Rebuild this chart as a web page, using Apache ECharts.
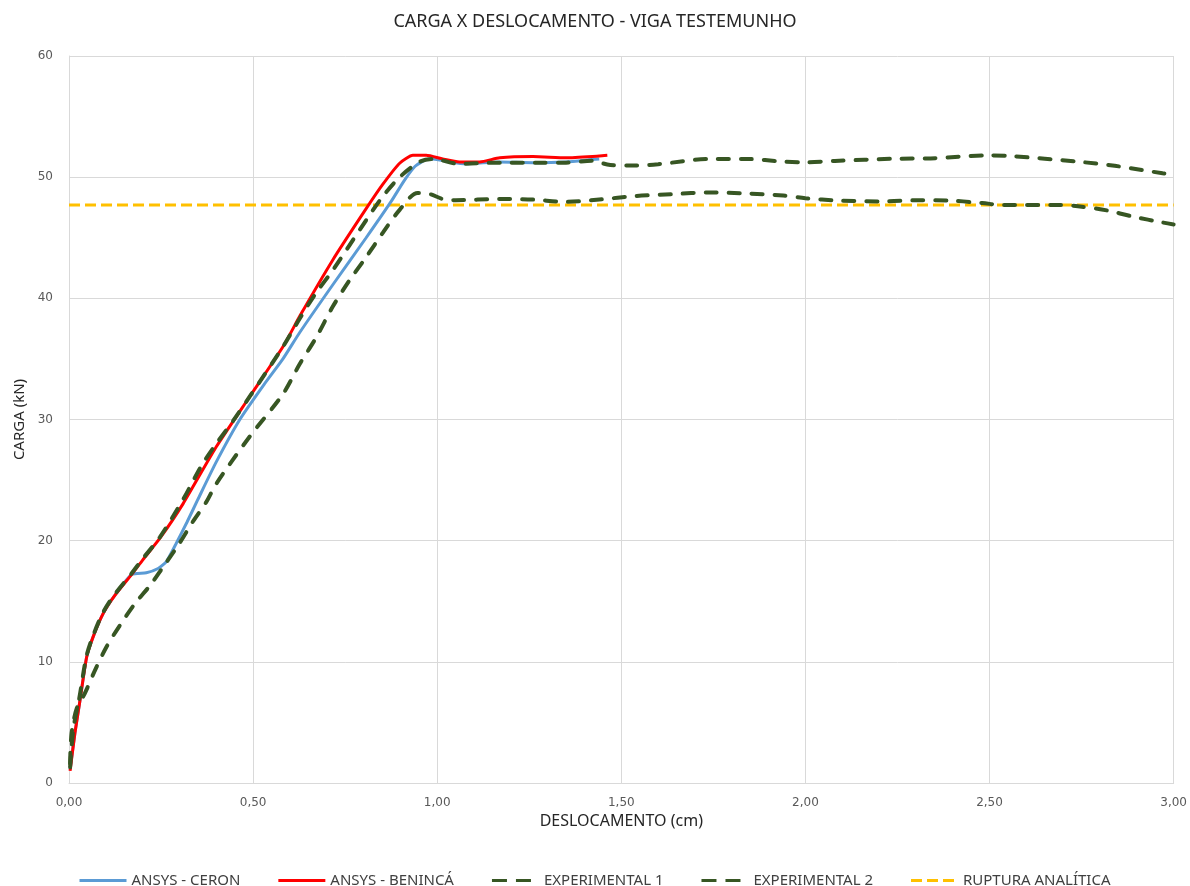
<!DOCTYPE html>
<html>
<head>
<meta charset="utf-8">
<script src="https://cdn.jsdelivr.net/npm/echarts@6/dist/echarts.min.js"></script>
<style>html,body{margin:0;padding:0;background:#fff}#c{width:1190px;height:886px}</style>
</head>
<body>
<div id="c"></div>
<script>
// ANSYS - CERON
const ceronX = [0.003,0.016,0.03,0.048,0.066,0.093,0.125,0.17,0.21,0.242,0.265,0.29,0.32,0.35,0.4,0.464,0.53,0.581,0.627,0.716,0.807,0.875,0.91,0.94,0.97,0.988,1.033,1.079,1.17,1.26,1.35,1.42,1.44];
const ceronY = [1.1,4.1,6.85,10.4,12.1,14.0,15.5,17.2,17.35,17.7,18.3,19.7,21.5,23.4,26.5,30.0,32.9,35.0,37.2,41.1,45.0,48.0,49.7,50.9,51.45,51.5,51.26,51.1,51.26,51.2,51.26,51.45,51.5];
// ANSYS - BENINCÁ
const benincaX = [0.003,0.016,0.03,0.048,0.066,0.093,0.125,0.17,0.2,0.247,0.31,0.4,0.491,0.581,0.628,0.716,0.807,0.852,0.898,0.934,0.97,1.015,1.06,1.115,1.17,1.26,1.35,1.44,1.462];
const benincaY = [1.0,4.1,6.85,10.4,12.1,14.0,15.5,17.2,18.4,20.2,23.06,27.75,31.9,36.0,38.6,43.15,47.4,49.4,51.15,51.8,51.8,51.5,51.26,51.26,51.6,51.7,51.6,51.75,51.8];
// EXPERIMENTAL 1
const exp1X = [0.003,0.012,0.028,0.047,0.066,0.093,0.125,0.17,0.2,0.247,0.31,0.36,0.4,0.446,0.491,0.581,0.628,0.672,0.716,0.807,0.852,0.898,0.952,0.988,1.06,1.17,1.28,1.35,1.42,1.47,1.54,1.60,1.74,1.84,1.94,2.0,2.08,2.24,2.34,2.50,2.56,2.74,2.84,2.97,3.0];
const exp1Y = [1.3,4.5,7.0,10.4,12.2,14.1,15.6,17.3,18.5,20.3,23.4,26.2,28.0,29.9,31.9,36.0,38.4,40.5,42.3,46.45,48.4,50.0,51.26,51.5,51.1,51.2,51.2,51.2,51.35,51.0,50.96,51.07,51.5,51.5,51.28,51.23,51.34,51.52,51.55,51.8,51.74,51.28,50.94,50.32,50.2];
// EXPERIMENTAL 2
const exp2X = [0.003,0.007,0.021,0.043,0.0705,0.102,0.138,0.179,0.22,0.256,0.296,0.337,0.373,0.4,0.491,0.581,0.627,0.672,0.716,0.762,0.807,0.852,0.898,0.947,0.98,1.015,1.05,1.17,1.26,1.35,1.44,1.54,1.64,1.74,1.84,1.94,2.0,2.09,2.21,2.31,2.40,2.48,2.54,2.69,2.74,2.82,2.89,2.97,3.0];
const exp2Y = [1.6,4.1,6.15,7.4,9.3,11.25,13.0,14.8,16.3,17.85,19.6,21.6,23.2,24.7,28.6,32.1,34.6,36.8,39.3,41.5,43.4,45.4,47.3,48.7,48.6,48.2,48.1,48.2,48.15,47.96,48.15,48.45,48.6,48.74,48.66,48.48,48.26,48.07,48.0,48.1,48.05,47.86,47.7,47.7,47.6,47.25,46.74,46.26,46.1];
// RUPTURA ANALÍTICA
const rupturaX = [0, 3.0];
const rupturaY = [47.7, 47.7];

const seriesNames = ['ANSYS - CERON','ANSYS - BENINCÁ','EXPERIMENTAL 1','EXPERIMENTAL 2','RUPTURA ANALÍTICA'];
const xTickInterval = 0.5, xMin = 0, xMax = 3;
const yTickInterval = 10, yMin = 0, yMax = 60;

function pairs(xs, ys){ return xs.map((x,i)=>[x, ys[i]]); }
const FONT = 'Noto Sans';
const C_BLUE = '#5b9bd5', C_RED = '#ff0000', C_GREEN = '#375623', C_GOLD = '#ffc000';
const ICON_SOLID = 'path://M0,0h47v3h-47z';
const ICON_DASH = 'path://M0,0h15v3h-15zM24,0h15v3h-15zM46.9,1.4h0.1v0.1h-0.1z';
const ICON_SHORT = 'path://M0,0h11v3h-11zM16,0h11v3h-11zM32,0h11v3h-11zM46.9,1.4h0.1v0.1h-0.1z';

const chart = echarts.init(document.getElementById('c'));
chart.setOption({
  animation:false,
  title:{text:'CARGA X DESLOCAMENTO - VIGA TESTEMUNHO', left:'center', top:8,
    textStyle:{fontFamily:FONT, fontSize:18, fontWeight:'normal', color:'#262626'}},
  grid:{left:69, right:14, top:56, bottom:103},
  legend:{top:868, left:'center', itemWidth:47, itemHeight:3, itemGap:38, symbolKeepAspect:false,
    textStyle:{fontFamily:FONT, fontSize:15, color:'#404040'},
    data:[
      {name:seriesNames[0], icon:ICON_SOLID, itemStyle:{color:C_BLUE}},
      {name:seriesNames[1], icon:ICON_SOLID, itemStyle:{color:C_RED}},
      {name:seriesNames[2], icon:ICON_DASH, itemStyle:{color:C_GREEN}},
      {name:seriesNames[3], icon:ICON_DASH, itemStyle:{color:C_GREEN}},
      {name:seriesNames[4], icon:ICON_SHORT, itemStyle:{color:C_GOLD}}
    ]},
  xAxis:{type:'value', min:xMin, max:xMax, interval:xTickInterval,
    name:'DESLOCAMENTO (cm)', nameLocation:'middle', nameGap:26,
    nameTextStyle:{fontFamily:FONT, fontSize:16, color:'#262626'},
    axisLine:{show:true, lineStyle:{color:'#d9d9d9'}}, axisTick:{show:false},
    axisLabel:{fontFamily:'DejaVu Sans', fontSize:12, color:'#595959', margin:14,
      formatter:v=>v.toFixed(2).replace('.',',')},
    splitLine:{show:true, lineStyle:{color:'#d9d9d9'}}},
  yAxis:{type:'value', min:yMin, max:yMax, interval:yTickInterval,
    name:'CARGA (kN)', nameLocation:'middle', nameGap:40, nameRotate:90,
    nameTextStyle:{fontFamily:FONT, fontSize:15, color:'#262626'},
    axisLine:{show:true, lineStyle:{color:'#d9d9d9'}}, axisTick:{show:false},
    axisLabel:{fontFamily:'DejaVu Sans', fontSize:12, color:'#595959', margin:16},
    splitLine:{show:true, lineStyle:{color:'#d9d9d9'}}},
  series:[
    {name:seriesNames[0], type:'line', data:pairs(ceronX, ceronY), symbol:'none', smooth:0.2,
      lineStyle:{color:C_BLUE, width:3}, itemStyle:{color:C_BLUE}, z:3},
    {name:seriesNames[1], type:'line', data:pairs(benincaX, benincaY), symbol:'none', smooth:0.2,
      lineStyle:{color:C_RED, width:3}, itemStyle:{color:C_RED}, z:4},
    {name:seriesNames[2], type:'line', data:pairs(exp1X, exp1Y), symbol:'none', smooth:0.3,
      lineStyle:{color:C_GREEN, width:4, type:[11,12], cap:'round'}, itemStyle:{color:C_GREEN}, z:5},
    {name:seriesNames[3], type:'line', data:pairs(exp2X, exp2Y), symbol:'none', smooth:0.3,
      lineStyle:{color:C_GREEN, width:4, type:[11,12], cap:'round'}, itemStyle:{color:C_GREEN}, z:5},
    {name:seriesNames[4], type:'line', data:pairs(rupturaX, rupturaY), symbol:'none',
      lineStyle:{color:C_GOLD, width:3, type:[11,5]}, itemStyle:{color:C_GOLD}, z:2}
  ]
});
</script>
</body>
</html>
